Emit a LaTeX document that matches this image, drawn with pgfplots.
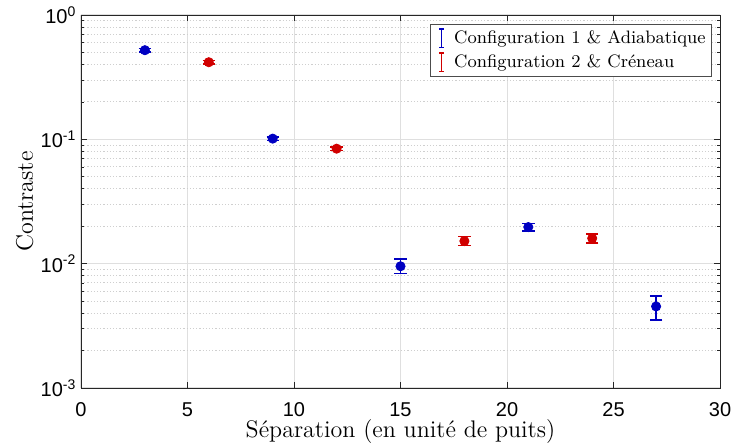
\documentclass[border=0pt]{standalone}
\usepackage{fontspec}
\usepackage{pgfplots}
\pgfplotsset{compat=1.18}
\newfontfamily\tickfont{Liberation Sans}
\definecolor{cblue}{rgb}{0,0,0.76}
\definecolor{cred}{rgb}{0.82,0,0}
\begin{document}
\begin{tikzpicture}
\begin{axis}[
  name=ax,
  scale only axis,
  width=319.5pt, height=186.5pt,
  xmin=0, xmax=30, ymin=1e-3, ymax=1,
  ymode=log,
  log basis y=10,
  xtick={0,5,10,15,20,25,30},
  xticklabels={0,5,10,15,20,25,30},
  ytick={0.001,0.01,0.1,1},
  minor ytick={0.002,0.003,0.004,0.005,0.006,0.007,0.008,0.009,0.02,0.03,0.04,0.05,0.06,0.07,0.08,0.09,0.2,0.3,0.4,0.5,0.6,0.7,0.8,0.9},
  yticklabels={10\textsuperscript{-3},10\textsuperscript{-2},10\textsuperscript{-1},10\textsuperscript{0}},
  tick label style={font=\fontsize{10}{12}\tickfont},
  xticklabel style={yshift=-3.7pt},
  yticklabel style={xshift=1.2pt},
  tick align=inside, tick pos=both,
  major tick length=3pt, minor tick length=1.7pt,
  axis line style={black!85, line width=0.4pt},
  every tick/.style={black!85, line width=0.4pt},
  ymajorgrids=true, xmajorgrids=true, yminorgrids=true, xminorgrids=false,
  major grid style={gray!25, line width=0.5pt},
  minor grid style={gray!38, line width=0.5pt, dash pattern=on 0.6pt off 1pt},
  xlabel={Séparation (en unité de puits)},
  ylabel={Contraste},
  label style={font=\fontsize{12}{14}\selectfont},
  xlabel style={at={(axis description cs:0.5,0)}, anchor=base, yshift=-25pt},
  ylabel style={at={(axis description cs:0,0.5)}, anchor=base, yshift=24pt},
  legend style={at={(1,1)}, anchor=north east, xshift=-4pt, yshift=-4.5pt,
    font=\fontsize{9}{11}\selectfont, draw=black!70, line width=0.4pt,
    inner sep=1pt, row sep=0pt},
  legend cell align=left,
]
\addlegendimage{legend image code/.code={\draw[draw=none] (0cm,0cm)--(0.32cm,0cm); \draw[cblue,line width=0.8pt] (0.17cm,-0.16cm)--(0.17cm,0.16cm) (0.125cm,-0.16cm)--(0.215cm,-0.16cm) (0.125cm,0.16cm)--(0.215cm,0.16cm);}}
\addlegendentry{Configuration 1 \& Adiabatique}
\addlegendimage{legend image code/.code={\draw[draw=none] (0cm,0cm)--(0.32cm,0cm); \draw[cred,line width=0.8pt] (0.17cm,-0.16cm)--(0.17cm,0.16cm) (0.125cm,-0.16cm)--(0.215cm,-0.16cm) (0.125cm,0.16cm)--(0.215cm,0.16cm);}}
\addlegendentry{Configuration 2 \& Créneau}

\addplot[only marks, mark=*, mark size=2.3pt, color=cblue, forget plot,
  error bars/.cd, y dir=both, y explicit,
  error mark options={rotate=90, mark size=3.1pt, line width=0.8pt, draw=cblue},
  error bar style={line width=0.8pt, draw=cblue}]
  table[x=x, y=y, y error plus=ep, y error minus=em] {
  x  y       ep      em
  3  0.521   0.018   0.018
  9  0.1013  0.0035  0.0035
  15 0.00953 0.00140 0.00120
  21 0.0197  0.0014  0.0013
  27 0.00453 0.00095 0.00102
};
\addplot[only marks, mark=*, mark size=2.3pt, color=cred, forget plot,
  error bars/.cd, y dir=both, y explicit,
  error mark options={rotate=90, mark size=3.1pt, line width=0.8pt, draw=cred},
  error bar style={line width=0.8pt, draw=cred}]
  table[x=x, y=y, y error plus=ep, y error minus=em] {
  x  y       ep      em
  6  0.417   0.015   0.015
  12 0.0841  0.003   0.003
  18 0.0152  0.0013  0.0012
  24 0.0160  0.0014  0.0013
};
\end{axis}
\pgfresetboundingbox
\path ([shift={(-40.5pt,-29pt)}]ax.south west) rectangle ([shift={(5.5pt,7.5pt)}]ax.north east);
\end{tikzpicture}
\end{document}
